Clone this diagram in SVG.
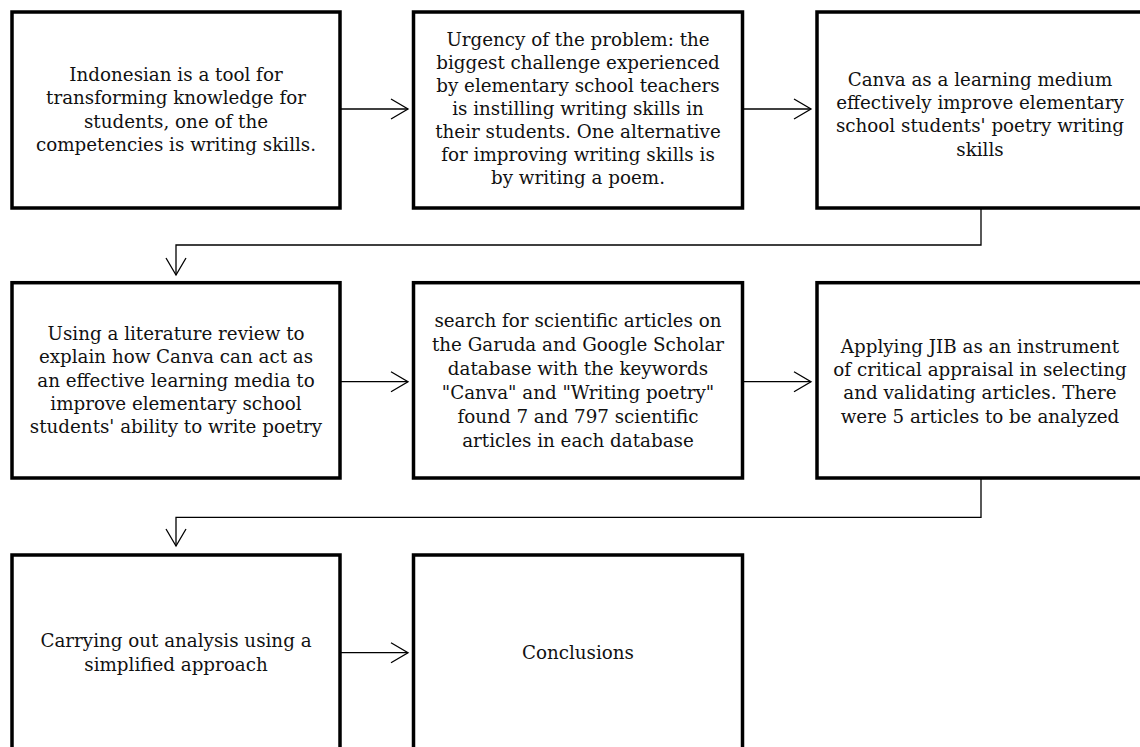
<svg xmlns="http://www.w3.org/2000/svg" width="1140" height="747" viewBox="0 0 1140 747">
<defs>
<style>
.box{fill:#fff;stroke:#000;stroke-width:3.5}
.t{font-family:"DejaVu Serif","Liberation Serif",serif;font-size:18.3px;fill:#111;text-anchor:middle}
.c{fill:none;stroke:#000;stroke-width:1.3}
</style>
<marker id="ah" markerUnits="userSpaceOnUse" viewBox="-20 -12 22 24" refX="0" refY="0" markerWidth="22" markerHeight="24" orient="auto">
<path d="M-17,-10 L0,0 L-17,10" fill="none" stroke="#000" stroke-width="1.3"/>
</marker>
</defs>
<rect width="1140" height="747" fill="#fff"/>
<g id="connectors">
<path class="c" d="M340,109 H408" marker-end="url(#ah)"/>
<path class="c" d="M743,109 H811" marker-end="url(#ah)"/>
<path class="c" d="M981,208 V245 H176 V275" marker-end="url(#ah)"/>
<path class="c" d="M340,381.7 H408" marker-end="url(#ah)"/>
<path class="c" d="M743,381.7 H811" marker-end="url(#ah)"/>
<path class="c" d="M981,478 V517.3 H176 V546" marker-end="url(#ah)"/>
<path class="c" d="M340,652.7 H408" marker-end="url(#ah)"/>
</g>
<g id="n1">
<rect class="box" x="12" y="12" width="328" height="196"/>
<text class="t"><tspan x="176" y="81">Indonesian is a tool for</tspan><tspan x="176" y="104.3">transforming knowledge for</tspan><tspan x="176" y="127.6">students, one of the</tspan><tspan x="176" y="151">competencies is writing skills.</tspan></text>
</g>
<g id="n2">
<rect class="box" x="413.5" y="12" width="329" height="196"/>
<text class="t"><tspan x="578" y="45.5">Urgency of the problem: the</tspan><tspan x="578" y="68.6">biggest challenge experienced</tspan><tspan x="578" y="91.7">by elementary school teachers</tspan><tspan x="578" y="114.8">is instilling writing skills in</tspan><tspan x="578" y="137.9">their students. One alternative</tspan><tspan x="578" y="161">for improving writing skills is</tspan><tspan x="578" y="184.2">by writing a poem.</tspan></text>
</g>
<g id="n3">
<rect class="box" x="817" y="12" width="328" height="196"/>
<text class="t"><tspan x="980" y="86">Canva as a learning medium</tspan><tspan x="980" y="109.2">effectively improve elementary</tspan><tspan x="980" y="132.4">school students' poetry writing</tspan><tspan x="980" y="155.6">skills</tspan></text>
</g>
<g id="n4">
<rect class="box" x="12" y="282.7" width="328" height="195.3"/>
<text class="t"><tspan x="176" y="340">Using a literature review to</tspan><tspan x="176" y="363.3">explain how Canva can act as</tspan><tspan x="176" y="386.6">an effective learning media to</tspan><tspan x="176" y="409.9">improve elementary school</tspan><tspan x="176" y="433.2">students' ability to write poetry</tspan></text>
</g>
<g id="n5">
<rect class="box" x="413.5" y="282.7" width="329" height="195.3"/>
<text class="t"><tspan x="578" y="327.3">search for scientific articles on</tspan><tspan x="578" y="351.2">the Garuda and Google Scholar</tspan><tspan x="578" y="375.1">database with the keywords</tspan><tspan x="578" y="399">"Canva" and "Writing poetry"</tspan><tspan x="578" y="422.9">found 7 and 797 scientific</tspan><tspan x="578" y="446.7">articles in each database</tspan></text>
</g>
<g id="n6">
<rect class="box" x="817" y="282.7" width="328" height="195.3"/>
<text class="t"><tspan x="980" y="352.7">Applying JIB as an instrument</tspan><tspan x="980" y="376">of critical appraisal in selecting</tspan><tspan x="980" y="399.3">and validating articles. There</tspan><tspan x="980" y="422.7">were 5 articles to be analyzed</tspan></text>
</g>
<g id="n7">
<rect class="box" x="12" y="555" width="328" height="220"/>
<text class="t"><tspan x="176" y="646.7">Carrying out analysis using a</tspan><tspan x="176" y="670.7">simplified approach</tspan></text>
</g>
<g id="n8">
<rect class="box" x="413.5" y="555" width="329" height="220"/>
<text class="t"><tspan x="578" y="659.3">Conclusions</tspan></text>
</g>
</svg>
